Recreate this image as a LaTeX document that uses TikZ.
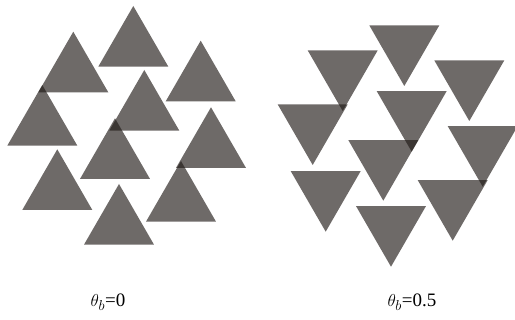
\documentclass[tikz,border=0pt]{standalone}
\usepackage{fontspec}
\setmainfont{Liberation Serif}
\definecolor{trigray}{RGB}{32, 26, 23}
\usetikzlibrary{shapes.geometric}

\begin{document}
\begin{tikzpicture}[x=1pt, y=-1pt,
  tri/.style={regular polygon, regular polygon sides=3, minimum size=80.8pt, inner sep=0pt, outer sep=0pt, fill=trigray, fill opacity=0.65, draw=none},
  trid/.style={tri, shape border rotate=180},
  lbl/.style={font=\fontsize{19}{23}\selectfont, inner sep=0pt}
]
  \useasboundingbox (0,0) rectangle (515,320);

  % theta_b = 0 (apex up)
  \node[tri] (a1) at (133.3, 46.4) {};
  \node[tri] (a2) at (73.3, 72.1) {};
  \node[tri] (a3) at (200.7, 81.1) {};
  \node[tri] (a4) at (42.3, 125.4) {};
  \node[tri] (a5) at (144.3, 110.4) {};
  \node[tri] (a6) at (115, 158.7) {};
  \node[tri] (a7) at (211, 147.7) {};
  \node[tri] (a8) at (57.3, 189.7) {};
  \node[tri] (a9) at (181, 201.4) {};
  \node[tri] (a10) at (119, 224.4) {};

  % theta_b = 0.5 (apex down)
  \node[trid] (b1) at (404.3, 45.6) {};
  \node[trid] (b2) at (342.7, 70.6) {};
  \node[trid] (b3) at (469.3, 80.6) {};
  \node[trid] (b4) at (312.7, 124.6) {};
  \node[trid] (b5) at (411.7, 111.3) {};
  \node[trid] (b6) at (383.3, 160.3) {};
  \node[trid] (b7) at (482.7, 146.3) {};
  \node[trid] (b8) at (325.7, 191.3) {};
  \node[trid] (b9) at (452.7, 200.3) {};
  \node[trid] (b10) at (391, 226.3) {};

  % Labels
  \node[lbl] (lblA) at (108, 302) {$\theta_b$=0};
  \node[lbl] (lblB) at (412, 302) {$\theta_b$=0.5};
\end{tikzpicture}
\end{document}
